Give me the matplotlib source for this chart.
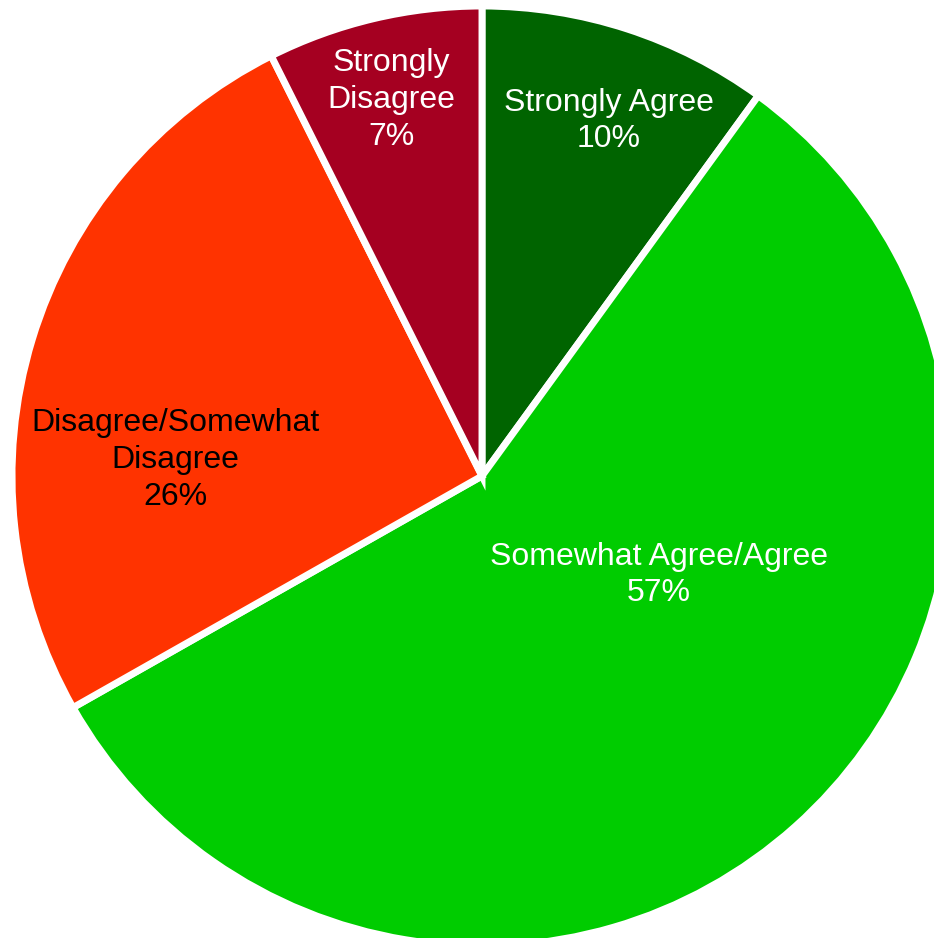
import matplotlib
matplotlib.use("Agg")
import matplotlib.pyplot as plt

# survey response shares (percent)
labels = ["Strongly Agree", "Somewhat Agree/Agree",
          "Disagree/Somewhat\nDisagree", "Strongly\nDisagree"]
values = [10.0, 56.8, 25.8, 7.4]
colors = ["#006400", "#00CC00", "#FF3300", "#A50021"]
text_colors = ["white", "white", "black", "white"]

# where each label sits, in pixels from the top-left corner
label_pos = [(609, 121), (659, 575), (175, 460), (391, 100)]

W, H = 934, 938
cx, cy, r = 482, 476, 470

plt.rcParams["font.family"] = ["Liberation Sans", "DejaVu Sans"]

fig = plt.figure(figsize=(W / 100, H / 100), dpi=100)
ax = fig.add_axes([0, 0, 1, 1])
ax.pie(values, colors=colors, startangle=90, counterclock=False,
       center=(cx, H - cy), radius=r,
       wedgeprops=dict(edgecolor="white", linewidth=5))

for lab, v, tc, (x, y) in zip(labels, values, text_colors, label_pos):
    ax.text(x, H - y, f"{lab}\n{v:.0f}%", ha="center", va="center",
            color=tc, fontsize=23, linespacing=1.3)

ax.set_xlim(0, W)
ax.set_ylim(0, H)
ax.set_aspect("equal")
ax.axis("off")

fig.savefig("out.png", dpi=100)
